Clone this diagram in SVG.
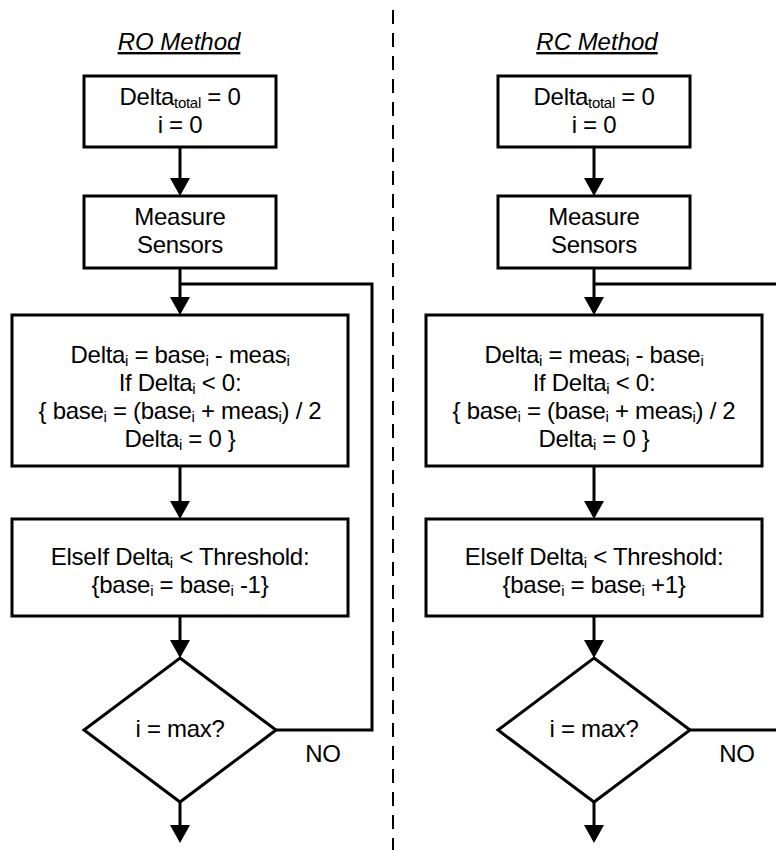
<svg xmlns="http://www.w3.org/2000/svg" width="776" height="850" viewBox="0 0 776 850">
<style>
.box{fill:#fff;stroke:#000;stroke-width:3}
.t{font-family:"Liberation Sans",Arial,sans-serif;font-size:24px;fill:#000;text-anchor:middle;letter-spacing:-0.3px}
.title{font-family:"Liberation Sans",Arial,sans-serif;font-size:24px;font-style:italic;text-decoration:underline;fill:#000;text-anchor:middle}
.sub{font-size:15px}
.ln{fill:none;stroke:#000;stroke-width:3}
.arr{fill:none;stroke:#000;stroke-width:3;marker-end:url(#ah)}
</style>
<defs>
<marker id="ah" viewBox="0 0 18 20" refX="15" refY="10" markerWidth="18" markerHeight="20" markerUnits="userSpaceOnUse" orient="auto">
<path d="M0,0 L18,10 L0,20 Z" fill="#000"/>
</marker>
</defs>
<rect width="776" height="850" fill="#fff"/>
<line x1="393" y1="10" x2="393" y2="850" stroke="#000" stroke-width="2" stroke-dasharray="14 9"/>
<text class="title" x="179" y="50">RO Method</text>
<text class="title" x="597" y="50">RC Method</text>

<g id="connectors">
<line class="arr" x1="180" y1="147" x2="180" y2="193"/>
<line class="arr" x1="180" y1="268" x2="180" y2="312"/>
<polyline class="ln" points="180,284 372,284 372,730 276,730"/>
<line class="arr" x1="180" y1="466" x2="180" y2="516"/>
<line class="arr" x1="180" y1="616" x2="180" y2="655"/>
<line class="arr" x1="180" y1="802" x2="180" y2="840"/>
<line class="arr" x1="594" y1="147" x2="594" y2="193"/>
<line class="arr" x1="594" y1="268" x2="594" y2="312"/>
<line class="ln" x1="594" y1="284" x2="776" y2="284"/>
<line class="ln" x1="690" y1="730" x2="776" y2="730"/>
<line class="arr" x1="594" y1="466" x2="594" y2="516"/>
<line class="arr" x1="594" y1="616" x2="594" y2="655"/>
<line class="arr" x1="594" y1="802" x2="594" y2="840"/>
</g>

<g id="ro-init">
<rect class="box" x="84" y="76" width="192" height="71"/>
<text class="t" x="180" y="105">Delta<tspan class="sub" dy="3">total</tspan><tspan dy="-3"> = 0</tspan></text>
<text class="t" x="180" y="133">i = 0</text>
</g>
<g id="ro-measure">
<rect class="box" x="84" y="196" width="192" height="72"/>
<text class="t" x="180" y="225">Measure</text>
<text class="t" x="180" y="253">Sensors</text>
</g>
<g id="ro-delta">
<rect class="box" x="12" y="315" width="336" height="151"/>
<text class="t" x="180" y="363">Delta<tspan class="sub" dy="3">i</tspan><tspan dy="-3"> = base</tspan><tspan class="sub" dy="3">i</tspan><tspan dy="-3"> - meas</tspan><tspan class="sub" dy="3">i</tspan></text>
<text class="t" x="180" y="391">If Delta<tspan class="sub" dy="3">i</tspan><tspan dy="-3"> &lt; 0:</tspan></text>
<text class="t" x="180" y="419">{ base<tspan class="sub" dy="3">i</tspan><tspan dy="-3"> = (base</tspan><tspan class="sub" dy="3">i</tspan><tspan dy="-3"> + meas</tspan><tspan class="sub" dy="3">i</tspan><tspan dy="-3">) / 2</tspan></text>
<text class="t" x="180" y="447">Delta<tspan class="sub" dy="3">i</tspan><tspan dy="-3"> = 0 }</tspan></text>
</g>
<g id="ro-elseif">
<rect class="box" x="12" y="519" width="336" height="97"/>
<text class="t" x="180" y="565">ElseIf Delta<tspan class="sub" dy="3">i</tspan><tspan dy="-3"> &lt; Threshold:</tspan></text>
<text class="t" x="180" y="593">{base<tspan class="sub" dy="3">i</tspan><tspan dy="-3"> = base</tspan><tspan class="sub" dy="3">i</tspan><tspan dy="-3"> -1}</tspan></text>
</g>
<g id="ro-decision">
<polygon class="box" points="180,658 276,730 180,802 84,730"/>
<text class="t" x="180" y="737">i = max?</text>
<text class="t" x="323" y="762">NO</text>
</g>

<g id="rc-init">
<rect class="box" x="498" y="76" width="192" height="71"/>
<text class="t" x="594" y="105">Delta<tspan class="sub" dy="3">total</tspan><tspan dy="-3"> = 0</tspan></text>
<text class="t" x="594" y="133">i = 0</text>
</g>
<g id="rc-measure">
<rect class="box" x="498" y="196" width="192" height="72"/>
<text class="t" x="594" y="225">Measure</text>
<text class="t" x="594" y="253">Sensors</text>
</g>
<g id="rc-delta">
<rect class="box" x="426" y="315" width="336" height="151"/>
<text class="t" x="594" y="363">Delta<tspan class="sub" dy="3">i</tspan><tspan dy="-3"> = meas</tspan><tspan class="sub" dy="3">i</tspan><tspan dy="-3"> - base</tspan><tspan class="sub" dy="3">i</tspan></text>
<text class="t" x="594" y="391">If Delta<tspan class="sub" dy="3">i</tspan><tspan dy="-3"> &lt; 0:</tspan></text>
<text class="t" x="594" y="419">{ base<tspan class="sub" dy="3">i</tspan><tspan dy="-3"> = (base</tspan><tspan class="sub" dy="3">i</tspan><tspan dy="-3"> + meas</tspan><tspan class="sub" dy="3">i</tspan><tspan dy="-3">) / 2</tspan></text>
<text class="t" x="594" y="447">Delta<tspan class="sub" dy="3">i</tspan><tspan dy="-3"> = 0 }</tspan></text>
</g>
<g id="rc-elseif">
<rect class="box" x="426" y="519" width="336" height="97"/>
<text class="t" x="594" y="565">ElseIf Delta<tspan class="sub" dy="3">i</tspan><tspan dy="-3"> &lt; Threshold:</tspan></text>
<text class="t" x="594" y="593">{base<tspan class="sub" dy="3">i</tspan><tspan dy="-3"> = base</tspan><tspan class="sub" dy="3">i</tspan><tspan dy="-3"> +1}</tspan></text>
</g>
<g id="rc-decision">
<polygon class="box" points="594,658 690,730 594,802 498,730"/>
<text class="t" x="594" y="737">i = max?</text>
<text class="t" x="737" y="762">NO</text>
</g>
</svg>
